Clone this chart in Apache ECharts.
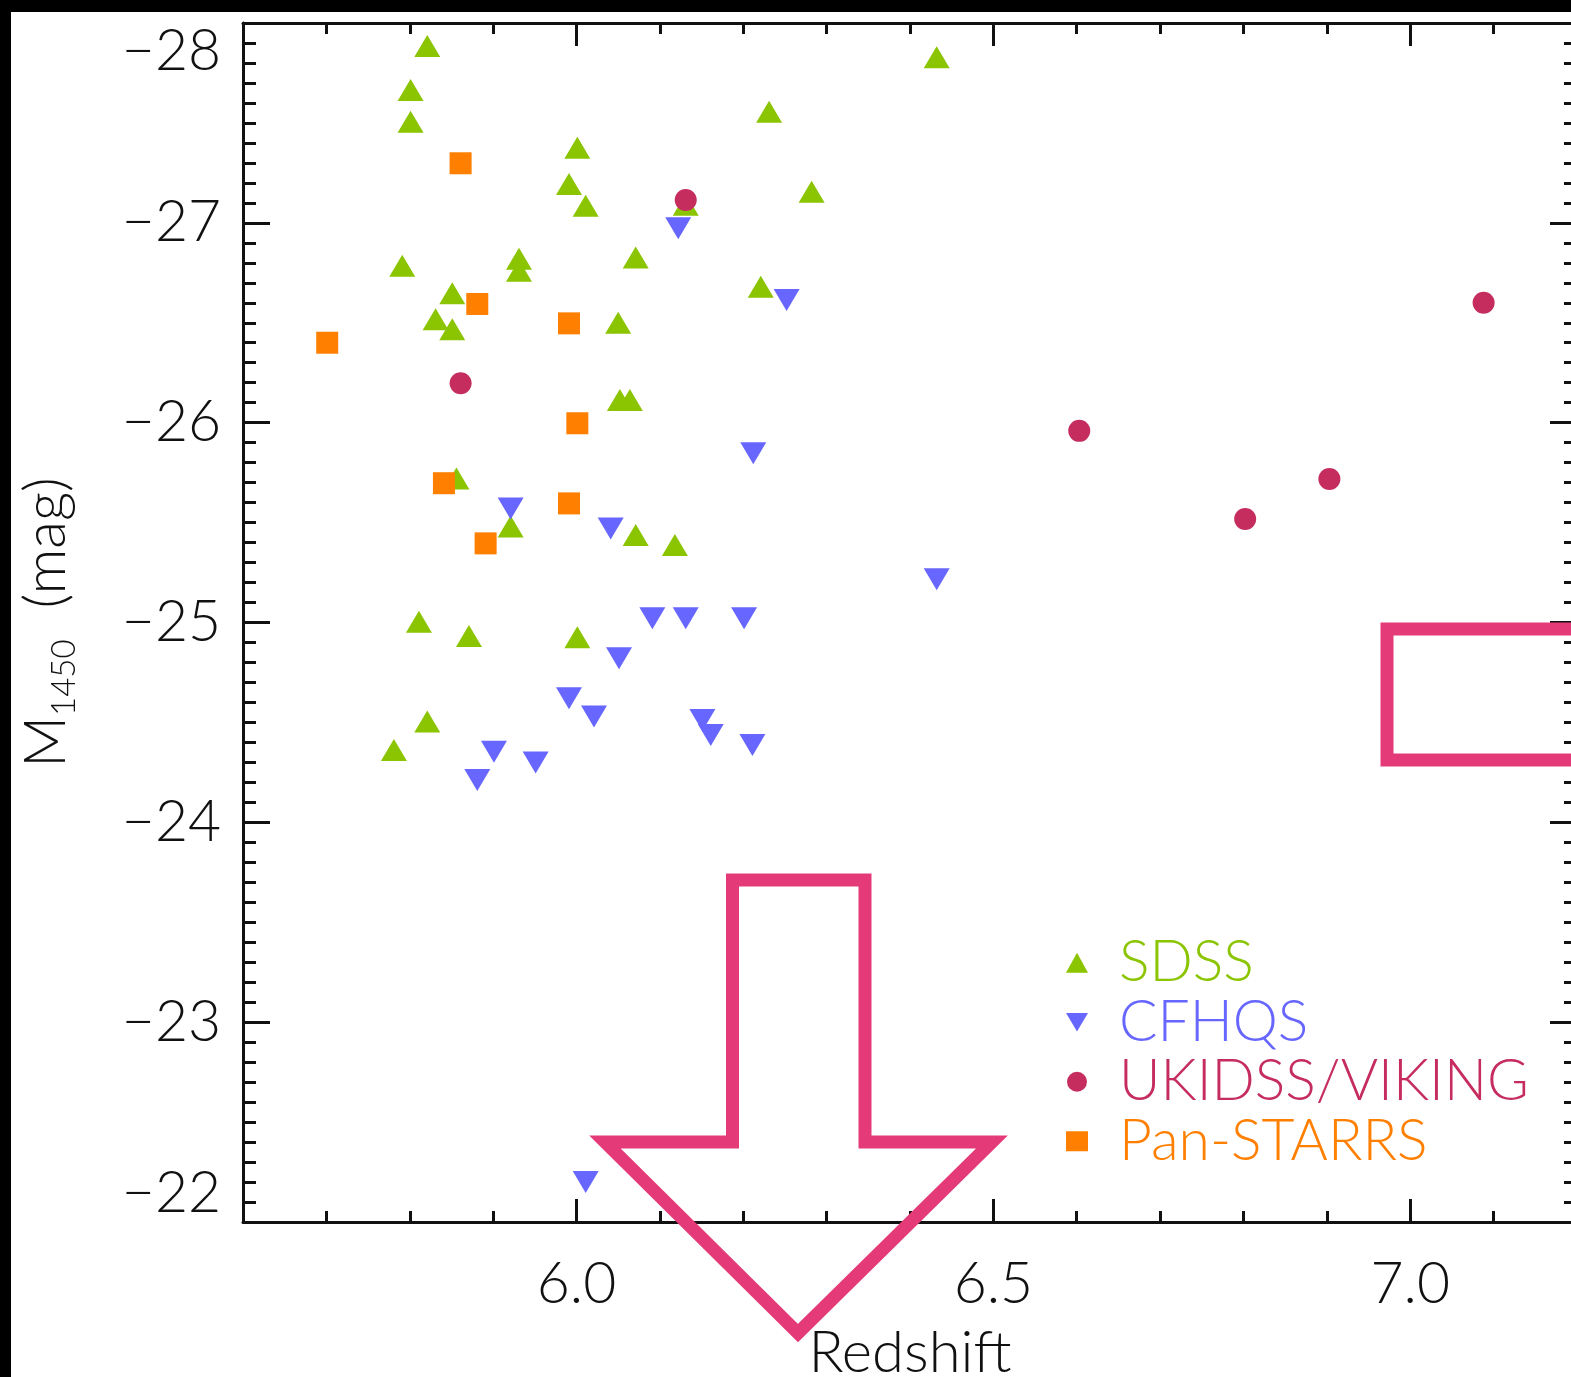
<!DOCTYPE html>
<html>
<head>
<meta charset="utf-8">
<title>M1450 vs Redshift</title>
<script src="https://cdn.jsdelivr.net/npm/echarts@6.0.0/dist/echarts.min.js"></script>
<style>
  html, body { margin: 0; padding: 0; background: #fff; }
  #main { width: 1571px; height: 1377px; }
</style>
</head>
<body>
<div id="main"></div>
<script>
// [redshift, M1450]
const sdss = [
  [5.821, -27.885], [5.801, -27.665], [5.801, -27.506], [6.001, -27.376],
  [5.991, -27.194], [6.011, -27.086], [6.231, -27.556], [6.432, -27.829],
  [6.282, -27.156], [6.131, -27.09], [5.791, -26.785], [5.931, -26.82],
  [5.931, -26.76], [6.071, -26.826], [5.851, -26.647], [5.831, -26.517],
  [5.851, -26.467], [6.050, -26.50], [6.221, -26.68], [6.052, -26.113],
  [6.064, -26.113], [5.856, -25.72], [5.921, -25.48], [6.071, -25.438],
  [6.118, -25.388], [5.811, -25.004], [5.871, -24.932], [6.001, -24.926],
  [5.821, -24.504], [5.781, -24.362]
];
const cfhqs = [
  [6.122, -26.973], [6.252, -26.614], [6.212, -25.847], [5.921, -25.571],
  [6.041, -25.471], [6.091, -25.021], [6.131, -25.021], [6.201, -25.021],
  [6.051, -24.821], [5.991, -24.621], [6.021, -24.529], [6.151, -24.512],
  [6.161, -24.437], [6.211, -24.387], [5.901, -24.353], [5.951, -24.30],
  [5.881, -24.212], [6.432, -25.217], [6.011, -22.20]
];
const ukidssViking = [
  [6.131, -27.114], [5.861, -26.197], [6.603, -25.959],
  [6.802, -25.518], [6.903, -25.718], [7.088, -26.60]
];
const panStarrs = [
  [5.861, -27.298], [5.881, -26.594], [5.701, -26.40], [5.991, -26.497],
  [6.001, -25.997], [5.841, -25.697], [5.991, -25.596], [5.891, -25.396]
];
const xMajorTicks = [6.0, 6.5, 7.0];
const seriesNames = ['SDSS', 'CFHQS', 'UKIDSS/VIKING', 'Pan-STARRS'];
const seriesColors = ['#8bc400', '#6767ff', '#c62d5f', '#ff7f00'];

const font = 'Lato, "DejaVu Sans", sans-serif';
const ink = '#111';
const pink = '#e43a78';
const downTriangle = 'path://M0,0L26,0L13,22Z';

var chart = echarts.init(document.getElementById('main'));

function minorXAxis(position) {
  return {
    type: 'value', position: position, min: 5.6, max: 7.2, interval: 0.1,
    axisLine: { show: true, onZero: false, lineStyle: { color: ink, width: 3 } },
    axisTick: { show: true, inside: true, length: 11, lineStyle: { color: ink, width: 3 } },
    axisLabel: { show: false },
    splitLine: { show: false }
  };
}

function majorXAxis(position, withLabels) {
  return {
    type: 'value', position: position, min: 5.6, max: 7.2,
    axisLine: { show: false, onZero: false },
    axisTick: { show: true, inside: true, length: 23, customValues: xMajorTicks,
      lineStyle: { color: ink, width: 3 } },
    axisLabel: { show: withLabels, customValues: xMajorTicks, margin: 34,
      formatter: function (v) { return v.toFixed(1); },
      color: ink, fontSize: 57, fontFamily: font, fontWeight: 300 },
    splitLine: { show: false },
    name: withLabels ? 'Redshift' : '',
    nameLocation: 'middle', nameGap: 102,
    nameTextStyle: { color: ink, fontSize: 58, fontFamily: font, fontWeight: 300 }
  };
}

function yAxis(position, withLabels) {
  return {
    type: 'value', position: position, min: -28, max: -22, interval: 1, inverse: true,
    axisLine: { show: true, onZero: false, lineStyle: { color: ink, width: 3 } },
    axisTick: { show: true, inside: true, length: 27, lineStyle: { color: ink, width: 3 } },
    minorTick: { show: true, splitNumber: 10, length: 13, lineStyle: { color: ink, width: 3 } },
    axisLabel: {
      show: withLabels, margin: 22, showMinLabel: true, showMaxLabel: true,
      verticalAlignMinLabel: 'top', verticalAlignMaxLabel: 'bottom',
      formatter: function (v) { return String(v).replace('-', '\u2212'); },
      color: ink, fontSize: 57, fontFamily: font, fontWeight: 300
    },
    splitLine: { show: false },
    minorSplitLine: { show: false },
    name: withLabels ? '{m|M}{s|1450}{m|  (mag)}' : '',
    nameLocation: 'middle', nameGap: 162,
    nameTextStyle: {
      color: ink, fontFamily: font, fontWeight: 300,
      rich: {
        m: { fontSize: 57, fontFamily: font, fontWeight: 300, color: ink,
          verticalAlign: 'top', padding: [0, 0, 6, 0] },
        s: { fontSize: 33, fontFamily: font, fontWeight: 300, color: ink,
          verticalAlign: 'bottom' }
      }
    }
  };
}

function scatter(name, data, symbol, size, color) {
  return {
    name: name, type: 'scatter', data: data,
    symbol: symbol, symbolSize: size,
    itemStyle: { color: color, opacity: 1 },
    xAxisIndex: 0, yAxisIndex: 0
  };
}

chart.setOption({
  animation: false,
  backgroundColor: '#fff',
  textStyle: { fontFamily: font },
  grid: { left: 243, top: 23, width: 1334, height: 1199, outerBoundsMode: 'none' },
  xAxis: [
    minorXAxis('bottom'),
    majorXAxis('bottom', true),
    minorXAxis('top'),
    majorXAxis('top', false)
  ],
  yAxis: [yAxis('left', true), yAxis('right', false)],
  legend: {
    orient: 'vertical', left: 1066, top: 933, padding: 0,
    itemWidth: 22, itemHeight: 20, itemGap: 0,
    textStyle: { fontSize: 57, fontFamily: font, fontWeight: 300, lineHeight: 59.5,
      padding: [0, 0, 0, 26] },
    data: seriesNames.map(function (n, i) {
      return { name: n, textStyle: { color: seriesColors[i] } };
    })
  },
  series: [
    scatter(seriesNames[0], sdss, 'triangle', [26, 22], seriesColors[0]),
    scatter(seriesNames[1], cfhqs, downTriangle, [26, 22], seriesColors[1]),
    scatter(seriesNames[2], ukidssViking, 'circle', 22, seriesColors[2]),
    scatter(seriesNames[3], panStarrs, 'rect', 22, seriesColors[3])
  ],
  graphic: [
    { type: 'rect', z: 100, shape: { x: 0, y: 0, width: 1571, height: 12 }, style: { fill: '#000' } },
    { type: 'rect', z: 100, shape: { x: 0, y: 0, width: 11, height: 1377 }, style: { fill: '#000' } },
    {
      type: 'rect', z: 100,
      shape: { x: 1387, y: 629, width: 260, height: 131 },
      style: { fill: 'none', stroke: pink, lineWidth: 13 }
    },
    {
      type: 'polygon', z: 100,
      shape: { points: [[732.5, 880], [865, 880], [865, 1142], [992, 1142],
        [798, 1333], [605, 1142], [732.5, 1142]] },
      style: { fill: 'none', stroke: pink, lineWidth: 13, lineJoin: 'miter', miterLimit: 10 }
    }
  ]
});
</script>
</body>
</html>
